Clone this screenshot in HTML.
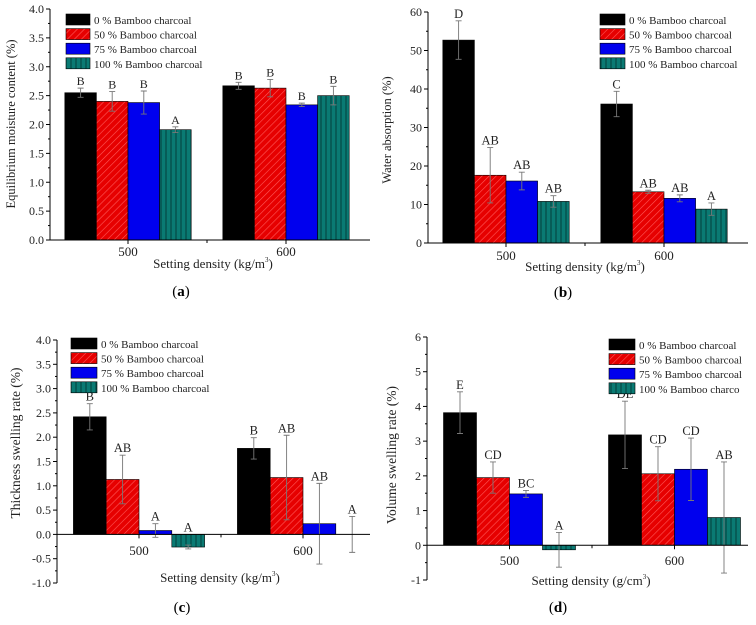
<!DOCTYPE html>
<html><head><meta charset="utf-8">
<style>
html,body{margin:0;padding:0;background:#fff;}
svg, svg text{font-family:"Liberation Serif","Times New Roman",serif;}
</style></head>
<body>
<svg id="fig" width="756" height="620" viewBox="0 0 756 620" font-family="Liberation Serif, serif">
<defs>
<pattern id="hatchRed" patternUnits="userSpaceOnUse" width="5" height="5" patternTransform="rotate(45)">
<rect width="5" height="5" fill="#e60000"/><line x1="0" y1="0" x2="0" y2="5" stroke="#ff5a5a" stroke-width="1.2"/>
</pattern>
<pattern id="hatchTeal" patternUnits="userSpaceOnUse" width="5" height="5">
<rect width="5" height="5" fill="#0a7a73"/><line x1="1" y1="0" x2="1" y2="5" stroke="#043f3b" stroke-width="1"/>
</pattern>
</defs>
</svg>
<script>
const series = ["0 % Bamboo charcoal","50 % Bamboo charcoal","75 % Bamboo charcoal","100 % Bamboo charcoal"];
const categories = [500, 600];
const emcValues = [[2.55,2.67],[2.40,2.63],[2.38,2.34],[1.91,2.50]];
const emcErrors = [[0.08,0.06],[0.17,0.15],[0.20,0.03],[0.05,0.16]];
const emcLetters = [["B","B"],["B","B"],["B","B"],["A","B"]];
const waValues = [[52.7,36.1],[17.6,13.3],[16.1,11.6],[10.8,8.8]];
const waErrors = [[5.0,3.3],[7.2,0.4],[2.3,0.9],[1.5,1.6]];
const waLetters = [["D","C"],["AB","AB"],["AB","AB"],["AB","A"]];
const tsValues = [[2.42,1.77],[1.13,1.17],[0.08,0.22],[-0.26,0.0]];
const tsErrors = [[0.27,0.22],[0.50,0.87],[0.14,0.83],[0.04,0.37]];
const tsLetters = [["B","B"],["AB","AB"],["A","AB"],["A","A"]];
const vsValues = [[3.82,3.18],[1.95,2.06],[1.48,2.19],[-0.13,0.80]];
const vsErrors = [[0.60,0.97],[0.45,0.78],[0.10,0.90],[0.50,1.60]];
const vsLetters = [["E","DE"],["CD","CD"],["BC","CD"],["A","AB"]];
const emcTicks = [0,0.5,1,1.5,2,2.5,3,3.5,4];
const waTicks = [0,10,20,30,40,50,60];
const tsTicks = [-1,-0.5,0,0.5,1,1.5,2,2.5,3,3.5,4];
const vsTicks = [-1,0,1,2,3,4,5,6];
const legendLabelsD = ["0 % Bamboo charcoal","50 % Bamboo charcoal","75 % Bamboo charcoal","100 % Bamboo charco"];

const fills = ["#000","url(#hatchRed)","#0000ee","url(#hatchTeal)"];
const svg = document.getElementById('fig');
const NS = "http://www.w3.org/2000/svg";
const FONT = '"Liberation Serif", serif';
function mk(tag, attrs, parent){
  const e = document.createElementNS(NS, tag);
  for (const k in attrs) e.setAttribute(k, attrs[k]);
  if (tag === 'text') e.style.fontFamily = FONT;
  (parent||svg).appendChild(e);
  return e;
}

function panel(cfg){
  const g = mk('g', {});
  
  
  const y = v => cfg.yPixTop + (cfg.yMax - v) * (cfg.yPixBot - cfg.yPixTop) / (cfg.yMax - cfg.yMin);
  const x = c => cfg.c500 + (c - 500) * (cfg.c600 - cfg.c500) / 100;
  const bw = 0.2 * (cfg.c600 - cfg.c500);
  const y0 = y(0);
  for (let s = 0; s < 4; s++){
    for (let c = 0; c < categories.length; c++){
      const v = cfg.values[s][c], e = cfg.errors[s][c];
      const bx = x(categories[c]) + (s - 2) * bw;
      const top = Math.min(y(v), y0), h = Math.abs(y(v) - y0);
      const r = mk('rect', {x:bx, y:top, width:bw, height:h, fill:fills[s], stroke:'#000', 'stroke-width':0.6}, g);
      
      
      const cx = bx + bw/2;
      const eb = mk('path', {d:`M${cx},${y(v-e)}V${y(v+e)}M${cx-3},${y(v+e)}H${cx+3}M${cx-3},${y(v-e)}H${cx+3}`, stroke:'#777', 'stroke-width':0.9, fill:'none'}, g);
      
      
      const lt = mk('text', {x:cx, y:y(Math.max(v+e, 0)) - 3, 'text-anchor':'middle', 'font-size':cfg.letterSize, fill:'#222'}, g);
      lt.textContent = cfg.letters[s][c];
      
      
    }
  }
  const ya = mk('line', {x1:cfg.axL, y1:cfg.yPixTop, x2:cfg.axL, y2:cfg.yPixBot, stroke:'#000', 'stroke-width':1}, g);
  
  
  const xa = mk('line', {x1:cfg.axL, y1:y0, x2:cfg.axR, y2:y0, stroke:'#000', 'stroke-width':1}, g);
  
  
  for (let i = 0; i < cfg.ticks.length; i++){
    const t = cfg.ticks[i];
    mk('line', {x1:cfg.axL-4, y1:y(t), x2:cfg.axL, y2:y(t), stroke:'#000'}, g);
    if (i < cfg.ticks.length - 1){
      const m = (t + cfg.ticks[i+1]) / 2;
      mk('line', {x1:cfg.axL-2, y1:y(m), x2:cfg.axL, y2:y(m), stroke:'#000'}, g);
    }
    const tl = mk('text', {x:cfg.axL-6, y:y(t)+4, 'text-anchor':'end', 'font-size':12, fill:'#222'}, g);
    tl.textContent = cfg.fmt(t);
    
    
  }
  for (const c of categories){
    mk('line', {x1:x(c), y1:y0, x2:x(c), y2:y0+4, stroke:'#000'}, g);
    const xl = mk('text', {x:x(c), y:cfg.xLabY, 'text-anchor':'middle', 'font-size':13, fill:'#222'}, g);
    xl.textContent = c;
    
    
  }
  mk('line', {x1:x(550), y1:y0, x2:x(550), y2:y0+3, stroke:'#000'}, g);
  const xt = mk('text', {x:cfg.xTitleX, y:cfg.xTitleY, 'text-anchor':'middle', 'font-size':13, fill:'#222'}, g);
  xt.innerHTML = cfg.xTitle + '<tspan dy="-6" font-size="7">3</tspan><tspan dy="6">)</tspan>';
  
  
  const yt = mk('text', {x:0, y:0, transform:`translate(${cfg.yTitleX},${cfg.yTitleY}) rotate(-90)`, 'text-anchor':'middle', 'font-size':cfg.yTitleSize, fill:'#222'}, g);
  yt.textContent = cfg.yTitle;
  
  
  const pl = mk('text', {x:cfg.plX, y:cfg.plY, 'text-anchor':'middle', 'font-size':15, fill:'#000'}, g);
  pl.innerHTML = '(<tspan font-weight="bold">' + cfg.tag + '</tspan>)';
  
  
  for (let s = 0; s < 4; s++){
    const ly = cfg.legY + s * 14.6;
    const lb = mk('rect', {x:cfg.legX, y:ly-6, width:cfg.legW, height:11, fill:fills[s], stroke:'#000', 'stroke-width':0.6}, g);
    
    
    const lt = mk('text', {x:cfg.legX+cfg.legW+4, y:ly+4, 'font-size':11, fill:'#222'}, g);
    lt.textContent = (cfg.legendLabels || series)[s];
    
    
  }
}

const f1 = t => t.toFixed(1);
const f0 = t => String(t);
panel({name:'panel-a-moisture', values:emcValues, errors:emcErrors, letters:emcLetters, ticks:emcTicks, fmt:f1,
  yMin:0, yMax:4, yPixTop:9, yPixBot:240, c500:128, c600:286, axL:50, axR:370, xLabY:256,
  xTitle:'Setting density (kg/m', xTitleX:213, xTitleY:268, yTitle:'Equilibrium moisture content (%)', yTitleSize:12.5, yTitleX:15, yTitleY:124,
  tag:'a', plX:181, plY:296, legX:66, legY:20, legW:24, letterSize:12});
panel({name:'panel-b-water-absorption', values:waValues, errors:waErrors, letters:waLetters, ticks:waTicks, fmt:f0,
  yMin:0, yMax:60, yPixTop:12, yPixBot:243, c500:506, c600:664, axL:428, axR:748, xLabY:260,
  xTitle:'Setting density (kg/m', xTitleX:585, xTitleY:271, yTitle:'Water absorption (%)', yTitleSize:12.5, yTitleX:391, yTitleY:130,
  tag:'b', plX:563, plY:297, legX:600, legY:20, legW:25, letterSize:12.5});
panel({name:'panel-c-thickness-swelling', values:tsValues, errors:tsErrors, letters:tsLetters, ticks:tsTicks, fmt:f1,
  yMin:-1, yMax:4, yPixTop:340, yPixBot:583, c500:139, c600:303, axL:57, axR:370, xLabY:555,
  xTitle:'Setting density (kg/m', xTitleX:220, xTitleY:582, yTitle:'Thickness swelling rate (%)', yTitleSize:13.5, yTitleX:20, yTitleY:443,
  tag:'c', plX:182, plY:612, legX:71, legY:344, legW:26, letterSize:12.5});
panel({name:'panel-d-volume-swelling', values:vsValues, errors:vsErrors, letters:vsLetters, ticks:vsTicks, fmt:f0,
  yMin:-1, yMax:6, yPixTop:337, yPixBot:580, c500:509.5, c600:674.5, axL:427, axR:748, xLabY:565,
  xTitle:'Setting density (g/cm', xTitleX:591, xTitleY:585, yTitle:'Volume swelling rate (%)', yTitleSize:13.5, yTitleX:396, yTitleY:455,
  tag:'d', plX:558, plY:612, legX:609, legY:345, legW:26, letterSize:12.5, legendLabels:legendLabelsD});
</script>
</body></html>
